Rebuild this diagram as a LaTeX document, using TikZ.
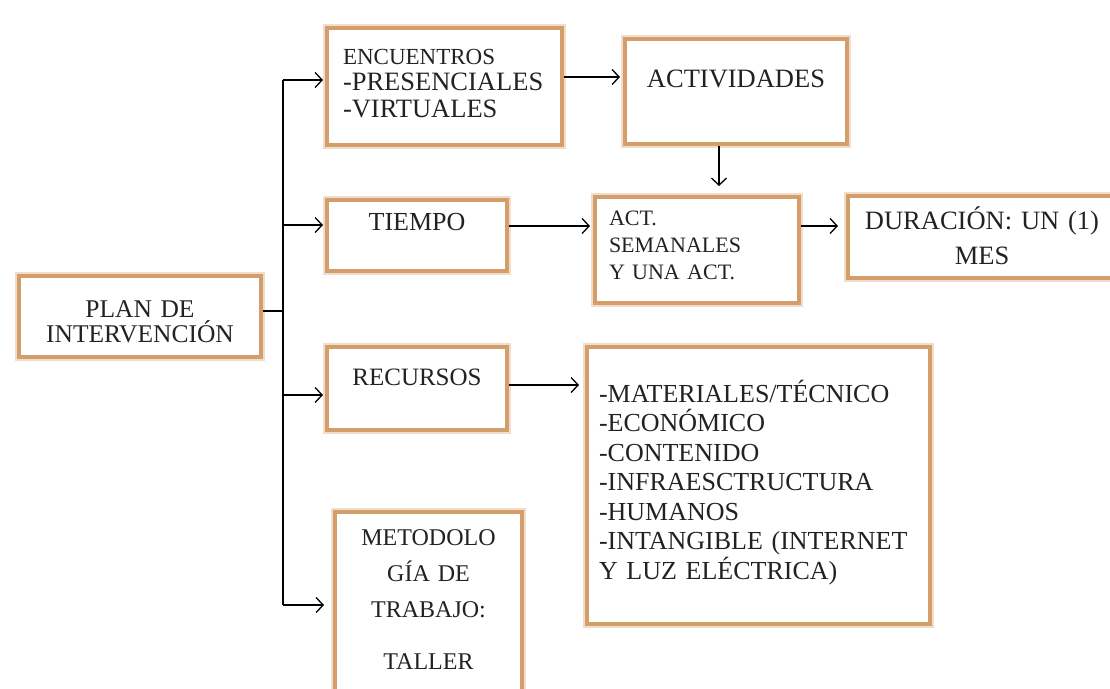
\documentclass[tikz,border=0pt]{standalone}
\usepackage{fontspec}
\setmainfont{Liberation Serif}
\usetikzlibrary{arrows.meta}
\definecolor{borde}{RGB}{212,158,106}
\definecolor{tinta}{RGB}{34,34,34}

\begin{document}
\begin{tikzpicture}[x=1pt, y=-1pt, ->, >={Straight Barb[length=7pt,width=15pt]}, line width=1.3pt,
    caja/.style = {draw=borde, line width=4pt, fill=white, anchor=north west, text=tinta,
        preaction={draw=borde!35, line width=8pt},
        inner xsep=0pt, inner ysep=0pt, align=center},
    cajaizq/.style = {caja, align=left},
    letra/.style 2 args = {font=\fontsize{#1}{#2}\selectfont}]
    \useasboundingbox[fill=white] (0,0) rectangle (1110,688);

    % Nodes
    \node[caja, letra={25.5}{25}, text width=242pt, text height=41pt, text depth=40pt] (plan) at (17,274) {PLAN DE\\INTERVENCIÓN};

    \node[cajaizq, letra={26.5}{26.5}, inner xsep=16pt, text width=203pt, text height=36pt, text depth=81pt] (encuentros) at (325,26)
        {{\fontsize{23}{26.5}\selectfont ENCUENTROS}\\\mbox{-PRESENCIALES}\\-VIRTUALES};
    \node[caja, letra={26.5}{28}, text width=222pt, text height=48pt, text depth=57pt] (actividades) at (623,37) {ACTIVIDADES};

    \node[caja, letra={26}{28}, text width=180pt, text height=30pt, text depth=41pt] (tiempo) at (325,198) {TIEMPO};
    \node[cajaizq, letra={22}{27}, inner xsep=14pt, text width=176pt, text height=28pt, text depth=78pt] (semanales) at (593,195)
        {ACT.\\SEMANALES\\Y UNA ACT.};
    \node[caja, letra={26.5}{35}, text width=268pt, text height=33pt, text depth=49pt] (duracion) at (846,194) {DURACIÓN: UN (1)\\MES};

    \node[caja, letra={25}{28}, text width=180pt, text height=38pt, text depth=45pt] (recursos) at (325,345) {RECURSOS};
    \node[cajaizq, letra={26}{29.5}, inner xsep=12pt, text width=319pt, text height=55pt, text depth=222pt] (materiales) at (585,345)
        {-MATERIALES/TÉCNICO\\-ECONÓMICO\\-CONTENIDO\\-INFRAESCTRUCTURA\\-HUMANOS\\-INTANGIBLE (INTERNET\\Y LUZ ELÉCTRICA)};

    \node[caja, letra={24}{36}, text width=187pt, text height=33pt, text depth=150pt] (metodologia) at (333,510)
        {METODOLO\\GÍA DE\\TRABAJO:\\[16pt]TALLER};

    % trunk points and arrow levels
    \coordinate (t0) at (283,311);
    \coordinate (t1) at (283,80);
    \coordinate (t2) at (283,225);
    \coordinate (t3) at (283,395);
    \coordinate (t4) at (283,605);
    \coordinate (f1) at (0,77);
    \coordinate (f2) at (0,226);
    \coordinate (f3) at (0,385);
    \coordinate (f4) at (719,0);

    % Edges
    \draw[-] (plan.east |- t0) -- (t0);
    \draw[-] (t1) -- (t4);

    \draw[shorten >=2pt] (t1) -- (t1 -| encuentros.west);
    \draw[shorten >=2pt] (t2) -- (t2 -| tiempo.west);
    \draw[shorten >=2pt] (t3) -- (t3 -| recursos.west);
    \draw[shorten >=9pt] (t4) -- (t4 -| metodologia.west);

    \draw[shorten >=3pt] (encuentros.east |- f1) -- (actividades.west |- f1);
    \draw[shorten >=9pt] (actividades.south -| f4) -- (semanales.north -| f4);
    \draw[shorten >=3pt] (tiempo.east |- f2) -- (semanales.west |- f2);
    \draw[shorten >=8pt] (semanales.east |- f2) -- (duracion.west |- f2);
    \draw[shorten >=6pt] (recursos.east |- f3) -- (materiales.west |- f3);

\end{tikzpicture}
\end{document}
